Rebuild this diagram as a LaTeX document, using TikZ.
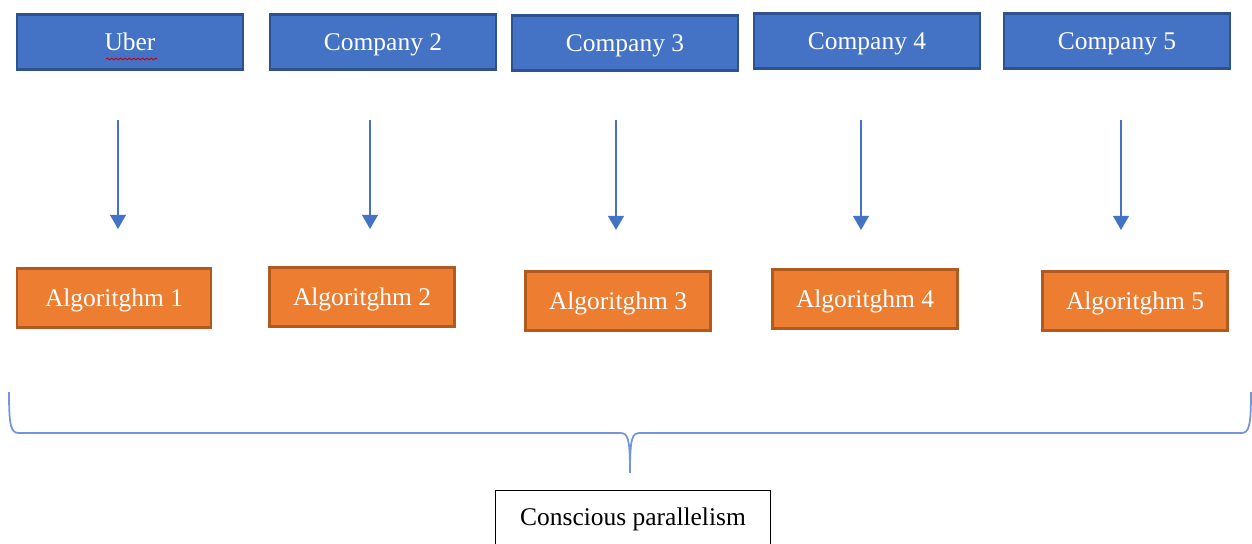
\documentclass[tikz,border=0pt]{standalone}
\usepackage{fontspec}
\setmainfont{Liberation Serif}
\usetikzlibrary{arrows.meta,decorations.pathmorphing}
\definecolor{compblue}{HTML}{4472C4}
\definecolor{compedge}{HTML}{2F528F}
\definecolor{algoorange}{HTML}{ED7D31}
\definecolor{algoedge}{HTML}{AE5A21}
\definecolor{bracecol}{HTML}{7396D8}
\begin{document}
\begin{tikzpicture}[x=0.02cm,y=-0.02cm,
font=\fontsize{14.5}{17}\selectfont,
company/.style={draw=compedge, line width=1.3pt, fill=compblue, text=white,
    minimum width=4.52cm, minimum height=1.1cm, anchor=center,
    text height=10pt, text depth=0pt},
algo/.style={draw=algoedge, line width=1.3pt, fill=algoorange, text=white,
    minimum width=3.7cm, minimum height=1.18cm, anchor=center,
    text height=10pt, text depth=0pt},
link/.style={draw=compblue, line width=0.8pt, -{Triangle[width=9pt,length=8pt]}}]
\useasboundingbox (0,0) rectangle (1252,544);
% companies
\node[company] (company1) at (130,42) {Uber};
\node[company] (company2) at (383,42) {Company 2};
\node[company] (company3) at (625,43) {Company 3};
\node[company] (company4) at (867,41) {Company 4};
\node[company] (company5) at (1117,41) {Company 5};
\draw[red!80!black, line width=0.5pt, decorate,
  decoration={snake, amplitude=0.5pt, segment length=2.5pt}]
  ([xshift=-0.48cm,yshift=-0.34cm]company1.center) -- ([xshift=0.55cm,yshift=-0.34cm]company1.center);
% algorithms
\node[algo, minimum width=3.88cm] (algo1) at (114,298) {Algoritghm 1};
\node[algo] (algo2) at (362,297) {Algoritghm 2};
\node[algo] (algo3) at (618,301) {Algoritghm 3};
\node[algo] (algo4) at (865,299) {Algoritghm 4};
\node[algo] (algo5) at (1135,301) {Algoritghm 5};
% arrows
\coordinate (from1) at (118,120); \coordinate (to1) at (118,229);
\coordinate (from2) at (370,120); \coordinate (to2) at (370,229);
\coordinate (from3) at (616,120); \coordinate (to3) at (616,230);
\coordinate (from4) at (861,120); \coordinate (to4) at (861,230);
\coordinate (from5) at (1121,120); \coordinate (to5) at (1121,230);
\draw[link] (from1) -- (to1);
\draw[link] (from2) -- (to2);
\draw[link] (from3) -- (to3);
\draw[link] (from4) -- (to4);
\draw[link] (from5) -- (to5);
% brace
\draw[bracecol, line width=1pt]
  (9,392) .. controls (9,427) and (11,433) .. (19,433) -- (620,433)
  .. controls (628,433) and (630,438) .. (630,473)
  .. controls (630,438) and (632,433) .. (640,433) -- (1241,433)
  .. controls (1249,433) and (1251,427) .. (1251,392);
\node[draw=black, line width=0.6pt, minimum width=5.5cm, anchor=north,
  inner ysep=10pt, text height=10pt, text depth=2cm]
  (parallel) at (633,490) {Conscious parallelism};
\end{tikzpicture}
\end{document}
